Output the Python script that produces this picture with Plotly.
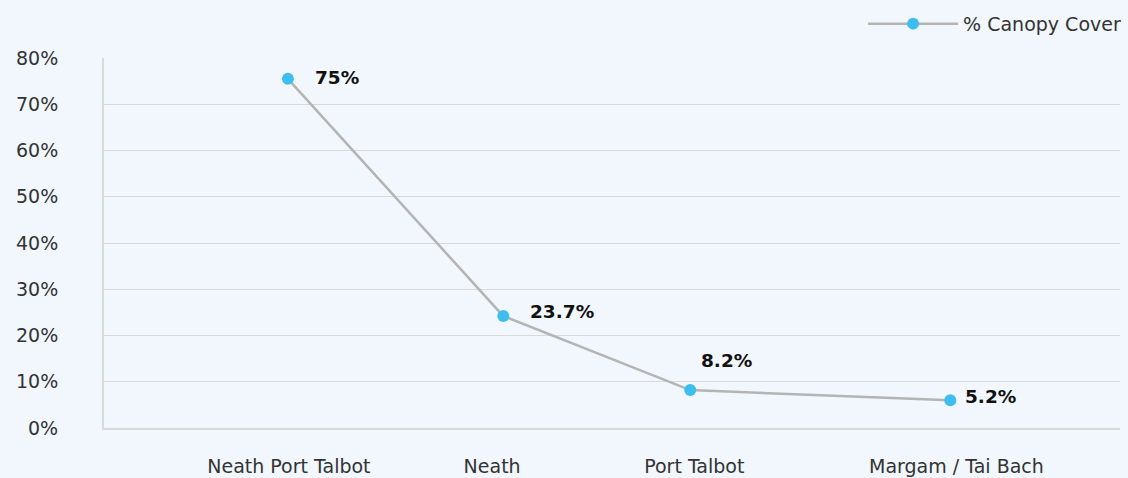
import plotly.graph_objects as go

# data
areas = ["Neath Port Talbot", "Neath", "Port Talbot", "Margam / Tai Bach"]
x_pos = [1.81, 3.93, 5.77, 8.33]          # where each point sits on the x axis (0-10)
tick_pos = [1.82, 3.82, 5.81, 8.39]       # where the area labels sit
canopy = [75.5, 24.2, 8.2, 6.0]
canopy_labels = ["75%", "23.7%", "8.2%", "5.2%"]

bg = "#F1F7FD"
font_family = "DejaVu Sans, sans-serif"

fig = go.Figure()
fig.add_trace(go.Scatter(
    x=x_pos, y=canopy,
    mode="lines+markers",
    name="% Canopy Cover",
    line=dict(color="#B4B4B4", width=2.5),
    marker=dict(color="#3EBEEF", size=12),
))

# value labels
shifts = [(25, 1, "left"), (25, 5, "left"), (36, 30, "center"), (13, 4, "left")]
for x, y, t, (dx, dy, anc) in zip(x_pos, canopy, canopy_labels, shifts):
    fig.add_annotation(
        x=x, y=y, text="<b>" + t + "</b>", showarrow=False,
        xanchor=anc, yanchor="middle", xshift=dx, yshift=dy,
        font=dict(family=font_family, size=18.5, color="#111111"),
    )

fig.update_layout(
    width=1128, height=478,
    paper_bgcolor=bg, plot_bgcolor=bg,
    margin=dict(l=104, r=8, t=58, b=50),
    font=dict(family=font_family, size=19, color="#333333"),
    showlegend=True,
    legend=dict(
        orientation="h", x=1.006, xanchor="right", y=0.99, yanchor="top",
        yref="container", itemwidth=90,
        font=dict(size=19, color="#333333"), bgcolor="rgba(0,0,0,0)",
    ),
    xaxis=dict(
        range=[0, 10], tickvals=tick_pos, ticktext=areas,
        showgrid=False, zeroline=False, automargin=False,
        showline=True, linecolor="#D9D9D9", linewidth=2,
        ticks="outside", ticklen=20, tickcolor="rgba(0,0,0,0)",
        tickfont=dict(size=19),
    ),
    yaxis=dict(
        range=[0, 80], dtick=10, ticksuffix="%",
        showgrid=True, gridcolor="#D9D9D9", gridwidth=1,
        zeroline=False, showline=True, linecolor="#D9D9D9", linewidth=2,
        automargin=False,
        ticks="outside", ticklen=40, tickcolor="rgba(0,0,0,0)",
        tickfont=dict(size=19),
    ),
)

fig.write_html(
    "out.html",
    config={"displayModeBar": False},
    post_script="document.body.style.margin='0';document.body.style.background='" + bg + "';",
)
